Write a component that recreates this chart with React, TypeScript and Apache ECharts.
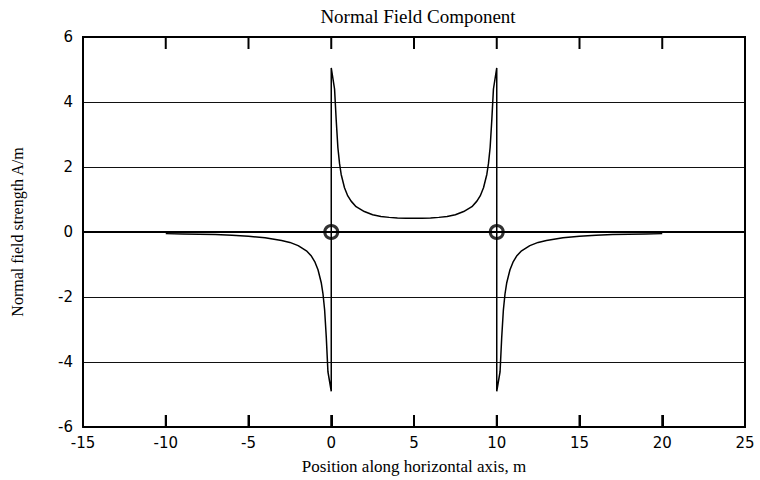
import React, { useEffect, useRef } from "react";
import * as echarts from "echarts";

// Position along horizontal axis (m)
const positions: number[] = [
  -10, -9, -8, -7, -6, -5, -4, -3, -2.5, -2, -1.5, -1.2, -1, -0.8, -0.6, -0.5, -0.4, -0.3, -0.2, 0, 0,
  0.2, 0.3, 0.4, 0.5, 0.6, 0.8, 1, 1.2, 1.5, 2, 2.5, 3, 3.5, 4, 4.5, 5, 5.5, 6, 6.5, 7, 7.5, 8, 8.5,
  8.8, 9, 9.2, 9.4, 9.5, 9.6, 9.7, 9.8, 10, 10,
  10.2, 10.3, 10.4, 10.5, 10.6, 10.8, 11, 11.2, 11.5, 12, 12.5, 13, 14, 15, 16, 17, 18, 19, 20,
];
// Normal field strength (A/m)
const fieldValues: number[] = [
  -0.05, -0.06, -0.07, -0.08, -0.1, -0.13, -0.18, -0.26, -0.32, -0.42, -0.58, -0.74, -0.91, -1.16, -1.57, -1.9, -2.4, -3.24, -4.3, -4.9, 5.05,
  4.4, 3.44, 2.6, 2.11, 1.77, 1.36, 1.11, 0.95, 0.78, 0.63, 0.53, 0.48, 0.45, 0.43, 0.42, 0.42, 0.42, 0.43, 0.45, 0.48, 0.53, 0.63, 0.78,
  0.95, 1.11, 1.36, 1.77, 2.11, 2.6, 3.44, 4.4, 5.05, -4.9,
  -4.3, -3.24, -2.4, -1.9, -1.57, -1.16, -0.91, -0.74, -0.58, -0.42, -0.32, -0.26, -0.18, -0.13, -0.1, -0.08, -0.07, -0.06, -0.05,
];
// Conductor positions marked with circles
const markerX: number[] = [0, 10];
const markerY: number[] = [0, 0];

const xTicks = { min: -15, max: 25, interval: 5 };
const yTicks = { min: -6, max: 6, interval: 2 };
// interior x tick positions (drawn inside at top and bottom)
const xTickValues: number[] = [-10, -5, 0, 5, 10, 15, 20];
const tickLenUnits = 0.37; // ~12px in y units

const TITLE = "Normal Field Component";
const X_NAME = "Position along horizontal axis, m";
const Y_NAME = "Normal field strength A/m";

const serif = "'Liberation Serif', 'Times New Roman', serif";
const tickFont = "'DejaVu Sans', sans-serif";

export default function App() {
  const ref = useRef<HTMLDivElement>(null);
  useEffect(() => {
    if (!ref.current) return;
    const chart = echarts.init(ref.current, null, { renderer: "svg" });
    const curve = positions.map((x, i) => [x, fieldValues[i]]);
    const markers = markerX.map((x, i) => [x, markerY[i]]);
    chart.setOption({
      animation: false,
      title: {
        text: TITLE,
        left: 413,
        textAlign: "center",
        top: 2,
        textStyle: { fontFamily: serif, fontSize: 19, fontWeight: "normal", color: "#000" },
      },
      grid: { left: 83, right: 15, top: 37, bottom: 53 },
      xAxis: {
        type: "value",
        position: "bottom",
        min: xTicks.min,
        max: xTicks.max,
        interval: xTicks.interval,
        axisLine: { show: true, onZero: false, lineStyle: { color: "#000", width: 2 } },
        axisTick: { show: true, inside: true, length: 12, lineStyle: { color: "#000", width: 2 } },
        axisLabel: { color: "#000", fontFamily: tickFont, fontSize: 15, margin: 8 },
        splitLine: { show: false },
      },
      yAxis: {
        type: "value",
        min: yTicks.min,
        max: yTicks.max,
        interval: yTicks.interval,
        axisLine: { show: true, onZero: false, lineStyle: { color: "#000", width: 2 } },
        axisTick: { show: false },
        axisLabel: { color: "#000", fontFamily: tickFont, fontSize: 15, margin: 10 },
        splitLine: { show: true, lineStyle: { color: "#111", width: 1 } },
      },
      graphic: [
        {
          type: "text",
          x: 414,
          y: 458,
          style: { text: X_NAME, fontFamily: serif, fontSize: 17, fill: "#000", textAlign: "center" },
        },
        {
          type: "text",
          x: 17,
          y: 232,
          rotation: Math.PI / 2,
          style: {
            text: Y_NAME,
            fontFamily: serif,
            fontSize: 16,
            fill: "#000",
            textAlign: "center",
            textVerticalAlign: "middle",
          },
        },
      ],
      series: [
        {
          type: "line",
          data: curve,
          showSymbol: false,
          symbol: "none",
          lineStyle: { color: "#000", width: 1.5 },
          markLine: {
            silent: true,
            symbol: "none",
            label: { show: false },
            lineStyle: { color: "#000", width: 2, type: "solid" },
            data: [{ yAxis: 0 }],
          },
          z: 3,
        },
        {
          type: "scatter",
          data: markers,
          symbol: "circle",
          symbolSize: 13,
          itemStyle: { color: "rgba(0,0,0,0)", borderColor: "#000", borderWidth: 3 },
          z: 4,
        },
        {
          // top ticks and right border
          type: "custom",
          data: xTickValues.map((v) => [v, yTicks.max]),
          encode: { x: 0, y: 1 },
          renderItem: (params: any, api: any) => {
            const t = api.coord([api.value(0), api.value(1)]);
            const b = api.coord([api.value(0), yTicks.min]);
            const r = api.coord([xTicks.max, api.value(1)]);
            const l = api.coord([xTicks.min, api.value(1)]);
            return {
              type: "group",
              children: [
                { type: "rect", shape: { x: t[0] - 1, y: t[1], width: 2, height: 12 }, style: { fill: "#000" } },
                { type: "rect", shape: { x: r[0] - 1, y: r[1] - 1, width: 2, height: b[1] - r[1] + 2 }, style: { fill: "#000" } },
                { type: "rect", shape: { x: l[0] - 1, y: t[1] - 1, width: r[0] - l[0] + 2, height: 2 }, style: { fill: "#000" } },
              ],
            };
          },
          z: 10,
        },
        {
          // bottom ticks
          type: "custom",
          data: xTickValues.map((v) => [v, yTicks.min + tickLenUnits]),
          encode: { x: 0, y: 1 },
          renderItem: (params: any, api: any) => {
            const p = api.coord([api.value(0), api.value(1)]);
            const b = api.coord([api.value(0), yTicks.min]);
            return {
              type: "rect",
              shape: { x: p[0] - 1, y: p[1], width: 2, height: b[1] - p[1] },
              style: { fill: "#000" },
            };
          },
          z: 10,
        },
      ],
    });
    return () => chart.dispose();
  }, []);
  return <div ref={ref} style={{ position: "fixed", left: 0, top: 0, width: 760, height: 480, background: "#fff" }} />;
}
